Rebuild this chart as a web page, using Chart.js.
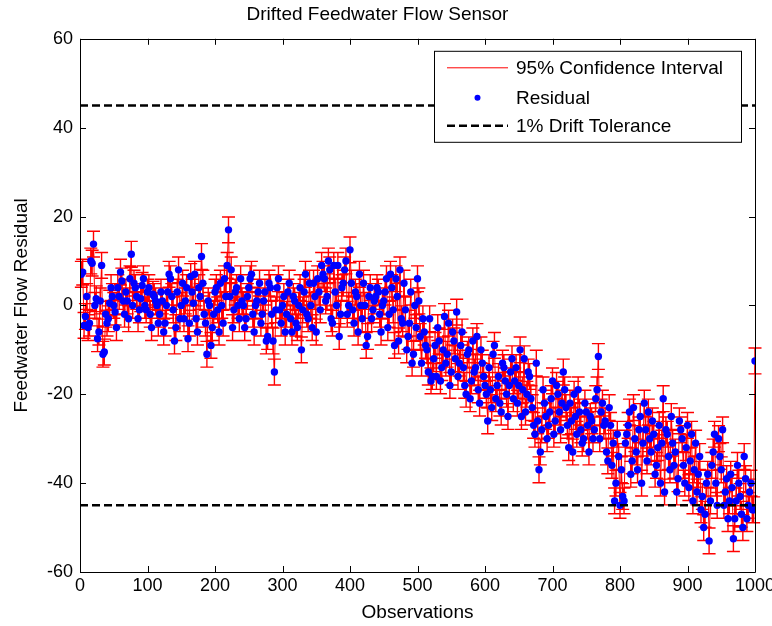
<!DOCTYPE html>
<html>
<head>
<meta charset="utf-8">
<script src="https://cdn.jsdelivr.net/npm/chart.js@4.4.0/dist/chart.umd.min.js"></script>
<style>
  html, body { margin: 0; padding: 0; background: #fff; }
  #wrap { width: 772px; height: 626px; }
</style>
</head>
<body>
<div id="wrap"><canvas id="chart" width="772" height="626"></canvas></div>
<script>
// one residual read every 2 observations (2, 4, ... 1000)
const STEP = 2;
const residual = [
  7, 7.5, -4.5, -2.5, 2, -5, -4, 10, 9.5, 13.8, 0, 1.5, -7.5, -6, 1, 9, -11, -10.5, -2, -4,
  -3, 0.5, 4, 2, 0, -1.5, -5, 4, 2, 7.5, 5.5, 1, -2, 3, 1, -3, 6, 11.5, 0, 5,
  4, 2, -3, -1, 1.5, 4.5, 6, 0, -1, 3, 4, -2, -5, 2.5, 2, 1, 0, -4, -2, 3,
  1, -6, -4, 0, 3, 7, 6, 2, -1, -8, -5, 3, 8, -3, 0, 5, -3, 1, 4, -7.5,
  -4, 6.5, 3, 0.5, 7, -3, -6, 4, 2, 11, 5, -2, -4, -11, 1, 0, -9, -5, -2, 3,
  4, -1, -6, 5, 0, -4, 6, 2, 9, 17, 2, 8, -5, -1, 3, 4, 0, -3, 6, 1,
  0, -5, -3, 2, 4, 6, 7, -2, -6, 0, 1, 3, 5, -4, -2, 1, 3, -8, -7, 5,
  4, -2, -8, -15, -1, 4, 6, -1, -4, 0, 2, -6, -2, 3, 5, -3, -6, 2, 1, -4,
  -5, 0, 4, -10, -1, 3, 7, -2, -3, 5, 0, -5, 5, 2, -6, 6, 3, -1, 9, 7,
  6, 1, 2, 10, 8, -3, -4, 9, 3, 0, 9, -7, -2, 4, 5, 8, 10, -2, 0, 12.5,
  5, -1, -4, 3, 2, -6, 7, 0, -3, 5, 0, -9, -7, 2, 4, -3, -1, 1, 2, 4,
  3, -2, -6, 0, 1, 3, 6, -5, -2, 7, 4, -1, -9, 6, 2, -8, 8, -3, -4, 5,
  -1, -10, -7, -4, 3, -13, -11, 0, -5, 6, 1, -7, -13, -3, -6, -9, -10, -15, -3, -17,
  -16, -12, -9, -16, -5, -8, -17, -14, -10, -2.5, -13, -11, -4, -18, -15, -6, -8, -12, -1.5, -16,
  -13, -9, -6, -14, -18, -20, -11, -10, -21, -17, -8, -15, -14, -7, -19, -22, -10, -13, -16, -18,
  -20, -26, -14, -19, -23, -11, -9, -21, -18, -16, -22, -24, -13, -14, -17, -20, -25, -18, -15, -12,
  -21, -17, -14, -22, -18, -10, -25, -19, -12, -24, -20, -15, -16, -21, -23, -27, -29, -13, -26, -37,
  -33, -28, -19, -22, -25, -30, -27, -24, -21, -17, -29, -26, -18, -20, -24, -28, -22, -15, -19, -23,
  -27, -32, -22, -26, -33, -20, -25, -29, -19, -24, -28, -31, -30, -22, -24, -27, -33, -25, -26, -30,
  -28, -21, -19, -11.5, -30, -24, -22, -27, -26, -33, -35, -23, -27, -36, -31, -44, -40, -29, -34, -45,
  -37, -43, -44, -31, -29, -27, -24, -38, -35, -23, -30, -33, -37, -28, -25, -40, -31, -22, -28, -35,
  -24, -30, -33, -26, -29, -38, -36, -32, -27, -40, -31, -21, -42, -28, -29, -34, -37, -25, -31, -36,
  -33, -42, -39, -26, -28, -30, -36, -40, -32, -27, -41, -35, -29, -44, -37, -31, -42, -38, -34, -46,
  -43, -50, -47, -40, -38, -53, -44, -36, -33, -29, -40, -45, -30, -34, -37, -28, -45, -42, -39, -48,
  -44, -38, -41, -52.5, -48, -44, -36, -40, -43, -47, -50, -34, -39, -48, -45, -42, -40, -46, -46, -12.5
];
const observations = residual.map((_, i) => (i + 1) * STEP);
const ciHalfWidth = 2.9;     // 95% confidence half width
const driftTolerance = 45;   // 1% drift
const xLimits = [0, 1000];
const yLimits = [-60, 60];

const FONT = "'Liberation Sans', Arial, Helvetica, sans-serif";
const points = observations.map((x, i) => ({ x: x, y: residual[i] }));

// vertical error bars with caps, drawn right after the red line
const errorBars = {
  id: 'errorBars',
  afterDatasetDraw(chart, args) {
    if (args.index !== 0) return;
    const { ctx, scales: { x, y } } = chart;
    const cap = 6.5;
    ctx.save();
    ctx.strokeStyle = '#ff0000';
    ctx.lineWidth = 1.4;
    ctx.beginPath();
    observations.forEach((obs, i) => {
      const px = x.getPixelForValue(obs);
      const hi = y.getPixelForValue(residual[i] + ciHalfWidth);
      const lo = y.getPixelForValue(residual[i] - ciHalfWidth);
      ctx.moveTo(px, hi); ctx.lineTo(px, lo);
      ctx.moveTo(px - cap, hi); ctx.lineTo(px + cap, hi);
      ctx.moveTo(px - cap, lo); ctx.lineTo(px + cap, lo);
    });
    ctx.stroke();
    ctx.restore();
  }
};

// matlab style box with inward ticks on all sides
const axesBox = {
  id: 'axesBox',
  afterDatasetsDraw(chart) {
    const { ctx, chartArea: a, scales: { x, y } } = chart;
    const t = 6;
    ctx.save();
    ctx.strokeStyle = '#000';
    ctx.lineWidth = 1;
    ctx.beginPath();
    ctx.rect(Math.round(a.left) + 0.5, Math.round(a.top) + 0.5,
             Math.round(a.right - a.left), Math.round(a.bottom - a.top));
    x.ticks.forEach(tk => {
      const px = Math.round(x.getPixelForValue(tk.value)) + 0.5;
      ctx.moveTo(px, a.bottom); ctx.lineTo(px, a.bottom - t);
      ctx.moveTo(px, a.top); ctx.lineTo(px, a.top + t);
    });
    y.ticks.forEach(tk => {
      const py = Math.round(y.getPixelForValue(tk.value)) + 0.5;
      ctx.moveTo(a.left, py); ctx.lineTo(a.left + t, py);
      ctx.moveTo(a.right, py); ctx.lineTo(a.right - t, py);
    });
    ctx.stroke();
    ctx.restore();
  }
};

// legend box in the upper right corner of the axes
const boxLegend = {
  id: 'boxLegend',
  afterDraw(chart) {
    const { ctx, chartArea: a } = chart;
    const ds = chart.data.datasets;
    const left = a.right - 321, top = a.top + 12, w = 307, h = 91;
    ctx.save();
    ctx.fillStyle = '#fff';
    ctx.fillRect(left, top, w, h);
    ctx.strokeStyle = '#000';
    ctx.lineWidth = 1;
    ctx.strokeRect(left + 0.5, top + 0.5, w, h);

    const x0 = left + 13, x1 = left + 74, tx = left + 82;
    const rows = [top + 17, top + 47, top + 75];

    ctx.strokeStyle = ds[0].borderColor;
    ctx.lineWidth = 1;
    ctx.beginPath(); ctx.moveTo(x0, rows[0]); ctx.lineTo(x1, rows[0]); ctx.stroke();

    ctx.fillStyle = ds[1].backgroundColor;
    ctx.beginPath(); ctx.arc((x0 + x1) / 2, rows[1], 3, 0, Math.PI * 2); ctx.fill();

    ctx.strokeStyle = ds[2].borderColor;
    ctx.lineWidth = ds[2].borderWidth;
    ctx.setLineDash(ds[2].borderDash);
    ctx.beginPath(); ctx.moveTo(x0, rows[2]); ctx.lineTo(x1, rows[2]); ctx.stroke();
    ctx.setLineDash([]);

    ctx.fillStyle = '#000';
    ctx.font = '19px ' + FONT;
    ctx.textBaseline = 'middle';
    ctx.textAlign = 'left';
    [0, 1, 2].forEach((k, r) => ctx.fillText(ds[k].label, tx, rows[r] + 1));
    ctx.restore();
  }
};

const dashed = {
  borderColor: '#000000',
  borderWidth: 2.5,
  borderDash: [8, 4],
  pointRadius: 0,
  showLine: true,
  order: 1
};

new Chart(document.getElementById('chart'), {
  type: 'scatter',
  data: {
    datasets: [
      {
        label: '95% Confidence Interval',
        data: points,
        showLine: true,
        borderColor: '#ff0000',
        borderWidth: 1,
        pointRadius: 0,
        tension: 0,
        order: 3
      },
      {
        label: 'Residual',
        data: points,
        showLine: false,
        backgroundColor: '#0000ff',
        borderColor: '#0000ff',
        borderWidth: 0,
        pointRadius: 3.7,
        order: 2
      },
      Object.assign({ label: '1% Drift Tolerance',
        data: [{ x: xLimits[0], y: driftTolerance }, { x: xLimits[1], y: driftTolerance }] }, dashed),
      Object.assign({ label: 'lower tolerance',
        data: [{ x: xLimits[0], y: -driftTolerance }, { x: xLimits[1], y: -driftTolerance }] }, dashed)
    ]
  },
  options: {
    responsive: false,
    animation: false,
    devicePixelRatio: 1,
    events: [],
    layout: { padding: { top: 0, left: 0, right: 17, bottom: 0 } },
    plugins: {
      legend: { display: false },
      tooltip: { enabled: false },
      title: {
        display: true,
        text: 'Drifted Feedwater Flow Sensor',
        color: '#000',
        font: { family: FONT, size: 19, weight: 'normal' },
        padding: { top: 3, bottom: 13 }
      }
    },
    scales: {
      x: {
        type: 'linear',
        min: xLimits[0],
        max: xLimits[1],
        grid: { display: false, drawTicks: false },
        border: { display: false },
        ticks: { stepSize: 100, color: '#000', padding: 3, maxRotation: 0,
                 font: { family: FONT, size: 18 },
                 callback: v => String(v) },
        title: { display: true, text: 'Observations', color: '#000',
                 font: { family: FONT, size: 19 }, padding: { top: 0, bottom: 2 } },
        afterFit(s) { s.height = 54; s.paddingLeft = 0; s.paddingRight = 0; }
      },
      y: {
        type: 'linear',
        min: yLimits[0],
        max: yLimits[1],
        grid: { display: false, drawTicks: false },
        border: { display: false },
        ticks: { stepSize: 20, color: '#000', padding: 7,
                 font: { family: FONT, size: 18 } },
        title: { display: true, text: 'Feedwater Flow Residual', color: '#000',
                 font: { family: FONT, size: 19 }, padding: { top: 10, bottom: 0 } },
        afterFit(s) { s.width = 80; }
      }
    }
  },
  plugins: [errorBars, axesBox, boxLegend]
});
</script>
</body>
</html>
